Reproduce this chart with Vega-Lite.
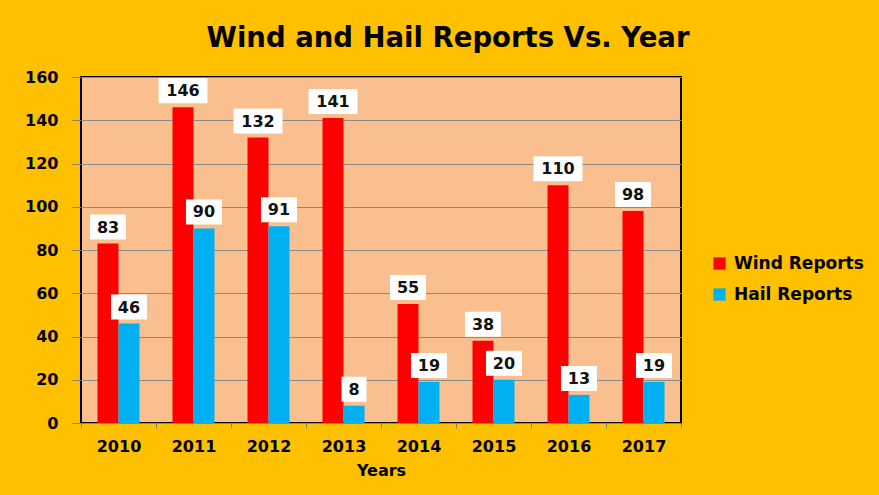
{
  "$schema": "https://vega.github.io/schema/vega-lite/v6.json",
  "width": 600,
  "height": 346,
  "autosize": {"type": "none"},
  "padding": {"left": 81, "top": 77, "right": 198, "bottom": 72},
  "background": "#FFC000",
  "title": {
    "text": "Wind and Hail Reports Vs. Year",
    "font": "DejaVu Sans",
    "fontSize": 27.5,
    "fontWeight": "bold",
    "color": "#000000",
    "anchor": "middle",
    "baseline": "alphabetic",
    "offset": -5,
    "dx": 67
  },
  "data": {
    "values": [
      {"year": "2010", "series": "Wind Reports", "value": 83},
      {"year": "2010", "series": "Hail Reports", "value": 46},
      {"year": "2011", "series": "Wind Reports", "value": 146},
      {"year": "2011", "series": "Hail Reports", "value": 90},
      {"year": "2012", "series": "Wind Reports", "value": 132},
      {"year": "2012", "series": "Hail Reports", "value": 91},
      {"year": "2013", "series": "Wind Reports", "value": 141},
      {"year": "2013", "series": "Hail Reports", "value": 8},
      {"year": "2014", "series": "Wind Reports", "value": 55},
      {"year": "2014", "series": "Hail Reports", "value": 19},
      {"year": "2015", "series": "Wind Reports", "value": 38},
      {"year": "2015", "series": "Hail Reports", "value": 20},
      {"year": "2016", "series": "Wind Reports", "value": 110},
      {"year": "2016", "series": "Hail Reports", "value": 13},
      {"year": "2017", "series": "Wind Reports", "value": 98},
      {"year": "2017", "series": "Hail Reports", "value": 19}
    ]
  },
  "encoding": {
    "x": {
      "field": "year",
      "type": "nominal",
      "scale": {"paddingInner": 0, "paddingOuter": 0},
      "axis": {
        "title": "Years",
        "labelAngle": 0,
        "tickBand": "extent",
        "domain": false,
        "grid": false,
        "ticks": true,
        "tickSize": 5,
        "tickColor": "#808080",
        "labelFont": "DejaVu Sans",
        "labelFontSize": 16,
        "labelFontWeight": "bold",
        "labelColor": "#000000",
        "labelPadding": 10,
        "titleFont": "DejaVu Sans",
        "titleFontSize": 16,
        "titleFontWeight": "bold",
        "titleColor": "#000000",
        "titlePadding": 8
      }
    },
    "xOffset": {
      "field": "series",
      "type": "nominal",
      "sort": ["Wind Reports", "Hail Reports"],
      "scale": {"paddingInner": 0, "paddingOuter": 0.786}
    },
    "y": {
      "field": "value",
      "type": "quantitative",
      "scale": {"domain": [0, 160], "nice": false},
      "axis": {
        "title": null,
        "values": [0, 20, 40, 60, 80, 100, 120, 140, 160],
        "grid": true,
        "gridColor": "#8a8a8a",
        "gridWidth": 1,
        "domain": false,
        "tickSize": 9,
        "tickColor": "#808080",
        "labelFont": "DejaVu Sans",
        "labelFontSize": 16,
        "labelFontWeight": "bold",
        "labelColor": "#000000",
        "labelPadding": 14
      }
    }
  },
  "layer": [
    {
      "mark": {"type": "bar"},
      "encoding": {
        "color": {
          "field": "series",
          "type": "nominal",
          "sort": ["Wind Reports", "Hail Reports"],
          "scale": {"domain": ["Wind Reports", "Hail Reports"], "range": ["#FF0000", "#00B0F0"]},
          "legend": {
            "title": null,
            "orient": "none",
            "legendX": 630,
            "legendY": 178,
            "padding": 0,
            "symbolType": "square",
            "symbolSize": 150,
            "symbolStrokeWidth": 0,
            "labelFont": "DejaVu Sans",
            "labelFontSize": 17,
            "labelFontWeight": "bold",
            "labelColor": "#000000",
            "labelOffset": 6,
            "rowPadding": 13
          }
        }
      }
    },
    {
      "transform": [{"filter": "datum.value >= 100"}],
      "mark": {"type": "bar", "fill": "#FFFFFF", "width": 49, "yOffset": -4, "y2Offset": -29},
      "encoding": {"y2": {"field": "value"}}
    },
    {
      "transform": [{"filter": "datum.value >= 10 && datum.value < 100"}],
      "mark": {"type": "bar", "fill": "#FFFFFF", "width": 36, "yOffset": -4, "y2Offset": -29},
      "encoding": {"y2": {"field": "value"}}
    },
    {
      "transform": [{"filter": "datum.value < 10"}],
      "mark": {"type": "bar", "fill": "#FFFFFF", "width": 25, "yOffset": -4, "y2Offset": -29},
      "encoding": {"y2": {"field": "value"}}
    },
    {
      "mark": {
        "type": "text",
        "font": "DejaVu Sans",
        "fontSize": 16,
        "fontWeight": "bold",
        "color": "#111111",
        "baseline": "middle",
        "align": "center",
        "dy": -16
      },
      "encoding": {"text": {"field": "value", "type": "quantitative"}}
    }
  ],
  "config": {
    "view": {"fill": "#FABF8F", "stroke": "#000000", "strokeWidth": 2}
  }
}
